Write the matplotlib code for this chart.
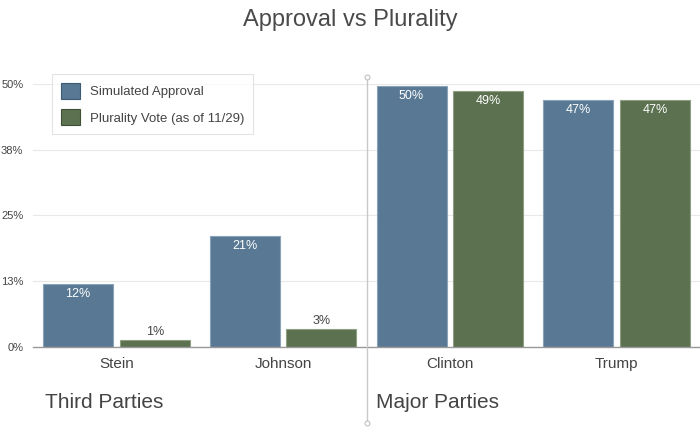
import matplotlib
matplotlib.use("Agg")
import matplotlib.pyplot as plt
from matplotlib.lines import Line2D
from matplotlib.patches import Patch
import numpy as np

categories = ["Stein", "Johnson", "Clinton", "Trump"]
approval = [12.0, 21.1, 49.6, 47.0]
plurality = [1.3, 3.4, 48.7, 47.0]
approval_labels = ["12%", "21%", "50%", "47%"]
plurality_labels = ["1%", "3%", "49%", "47%"]
yticks = [0, 12.5, 25, 37.5, 50]
ytick_labels = ["0%", "13%", "25%", "38%", "50%"]
series_names = ["Simulated Approval", "Plurality Vote (as of 11/29)"]
group_names = ["Third Parties", "Major Parties"]

BLUE = "#587893"
GREEN = "#5b7150"
TXT = "#444444"
FONT = "Liberation Sans"
plt.rcParams["font.family"] = [FONT, "DejaVu Sans"]

W, H = 700, 428
fig = plt.figure(figsize=(7, 4.28), dpi=100)
ax = fig.add_axes([33 / W, 1 - 347 / H, (700 - 33) / W, (347 - 84) / H])

x = np.arange(len(categories))
off, bw = 0.23, 0.42
ax.bar(x - off, approval, bw, color=BLUE, edgecolor="#8aa3b8", linewidth=0.8, zorder=3)
ax.bar(x + off, plurality, bw, color=GREEN, edgecolor="#8fa082", linewidth=0.8, zorder=3)

for xs, vals, labs in [(x - off, approval, approval_labels), (x + off, plurality, plurality_labels)]:
    for xi, v, lab in zip(xs, vals, labs):
        if v > 8:
            ax.annotate(lab, (xi, v), xytext=(0, -7), textcoords="offset points",
                        ha="center", va="center", color="white", fontsize=9, zorder=4)
        else:
            ax.annotate(lab, (xi, v), xytext=(0, 6), textcoords="offset points",
                        ha="center", va="center", color=TXT, fontsize=9, zorder=4)

ax.set_xlim(-0.5, 3.5)
ax.set_ylim(0, 50)
ax.set_yticks(yticks)
ax.set_yticklabels(ytick_labels)
ax.set_xticks(x)
ax.set_xticklabels(categories)
ax.tick_params(axis="y", length=0, pad=7, labelsize=8, labelcolor=TXT)
ax.tick_params(axis="x", length=0, pad=7, labelsize=11, labelcolor=TXT)
ax.grid(axis="y", color="#e8e8e8", linewidth=0.8, zorder=0)
for s in ["top", "right", "left"]:
    ax.spines[s].set_visible(False)
ax.spines["bottom"].set_color("#999999")
ax.spines["bottom"].set_linewidth(1)
ax.spines["bottom"].set_zorder(5)

# divider between groups
xd = (33 + 2 * 166.75) / W
fig.add_artist(Line2D([xd, xd], [1 - 77 / H, 1 - 423 / H], transform=fig.transFigure,
                      color="#c8c8c8", linewidth=1, zorder=1))
for yy in [77, 423]:
    fig.add_artist(Line2D([xd], [1 - yy / H], transform=fig.transFigure, marker="o",
                          markersize=3.5, markerfacecolor="white", markeredgecolor="#c0c0c0",
                          markeredgewidth=0.8, linestyle="none", zorder=2))

fig.text(45 / W, 1 - 402 / H, group_names[0], fontsize=15, color=TXT, va="center", ha="left")
fig.text(376 / W, 1 - 402 / H, group_names[1], fontsize=15, color=TXT, va="center", ha="left")

fig.text(0.5, 1 - 20 / H, "Approval vs Plurality", fontsize=17, color="#4a4a4a",
         ha="center", va="center")

handles = [Patch(facecolor=BLUE, edgecolor="#3d5a73", linewidth=0.8),
           Patch(facecolor=GREEN, edgecolor="#3f5135", linewidth=0.8)]
leg = fig.legend(handles, series_names, loc="upper left",
                 bbox_to_anchor=(52 / W, 1 - 74 / H), borderaxespad=0, frameon=True,
                 fancybox=False, fontsize=9.5, handlelength=1.5, handleheight=1.5,
                 handletextpad=0.75, labelspacing=0.8, borderpad=0.65, labelcolor=TXT)
leg.get_frame().set_edgecolor("#dddddd")
leg.get_frame().set_linewidth(0.8)
leg.set_zorder(10)

fig.savefig("out.png", dpi=100)
